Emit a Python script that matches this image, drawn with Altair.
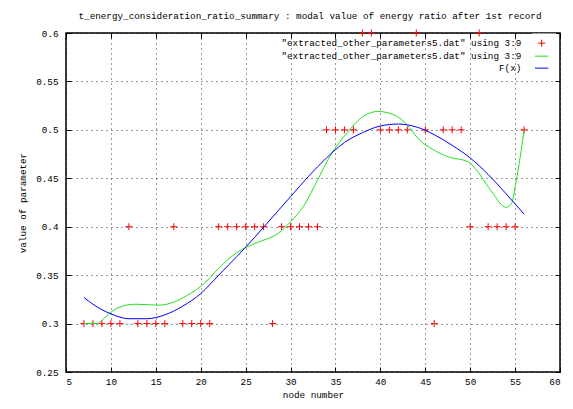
import altair as alt
import pandas as pd

# ---- data ----
node = list(range(7, 57))
modal = [0.3, 0.3, 0.3, 0.3, 0.3, 0.4, 0.3, 0.3, 0.3, 0.3,
         0.4, 0.3, 0.3, 0.3, 0.3, 0.4, 0.4, 0.4, 0.4, 0.4,
         0.4, 0.3, 0.4, 0.4, 0.4, 0.4, 0.4, 0.5, 0.5, 0.5,
         0.5, 0.6, 0.6, 0.5, 0.5, 0.5, 0.5, 0.6, 0.5, 0.3,
         0.5, 0.5, 0.5, 0.4, 0.6, 0.4, 0.4, 0.4, 0.4, 0.5]

smooth_x = [7, 8.4, 9.2, 9.9, 11.7, 12.8, 15.4, 17.2, 19.0, 20.1, 22.0, 23.4, 25.1,
            26.4, 28.6, 30.0, 31.5, 33.0, 34.4, 36.3, 38.1, 39.7, 41.4, 42.9,
            44.3, 45.8, 47.6, 49.8, 50.9, 52.4, 54.0, 54.6, 55.1, 56.0]
smooth_y = [0.300, 0.300, 0.305, 0.311, 0.319, 0.320, 0.319, 0.323, 0.332, 0.339,
            0.357, 0.369, 0.379, 0.384, 0.393, 0.405, 0.422, 0.448, 0.473, 0.497,
            0.514, 0.519, 0.516, 0.506, 0.490, 0.480, 0.472, 0.467, 0.456, 0.436,
            0.420, 0.424, 0.446, 0.499]

fit_x = [7, 8, 10, 12, 14, 16, 18, 20, 22, 24, 26, 28, 30, 32, 34, 36, 38, 40,
         42, 44, 46, 48, 50, 52, 54, 56]
fit_y = [0.327, 0.320, 0.310, 0.305, 0.305, 0.309, 0.318, 0.331, 0.350, 0.369,
         0.389, 0.410, 0.431, 0.452, 0.471, 0.487, 0.497, 0.504, 0.506, 0.503,
         0.495, 0.484, 0.471, 0.454, 0.434, 0.413]

series_keys = ["pts", "smooth", "fit"]
series_labels = ['"extracted_other_parameters5.dat" using 3:9',
                 '"extracted_other_parameters5.dat" using 3:9',
                 "F(x)"]
series_colors = ["#ff0000", "#22e022", "#0000ff"]

x_ticks = list(range(5, 61, 5))
y_ticks = [0.25, 0.3, 0.35, 0.4, 0.45, 0.5, 0.55, 0.6]

title_text = "t_energy_consideration_ratio_summary : modal value of energy ratio after 1st record"

FONT = "Liberation Mono"
FS = 9.3

df_pts = pd.DataFrame({"x": node, "y": modal, "series": "pts"})
df_smooth = pd.DataFrame({"x": smooth_x, "y": smooth_y, "series": "smooth"})
df_fit = pd.DataFrame({"x": fit_x, "y": fit_y, "series": "fit"})

xscale = alt.Scale(domain=[5, 60], nice=False, zero=False)
yscale = alt.Scale(domain=[0.25, 0.6], nice=False, zero=False)

cross = "M-1,0H1M0,-1V1"
linepath = "M-1.9,0H1.9"

label_expr = ("datum.label == 'fit' ? 'F(x)' : "
              "'\"extracted_other_parameters5.dat\" using 3:9'")

legend = alt.Legend(title=None, orient="none", legendX=466, legendY=0.5,
                    labelExpr=label_expr, labelAlign="right",
                    labelOffset=alt.ExprRef(expr="-25"), labelLimit=400,
                    labelFont=FONT, labelFontSize=FS, labelColor="#000",
                    symbolSize=49, symbolStrokeWidth=1, padding=5,
                    rowPadding=2, fillColor="white")

color = alt.Color("series:N", scale=alt.Scale(domain=series_keys, range=series_colors),
                  legend=legend)
shape = alt.Shape("series:N", scale=alt.Scale(domain=series_keys,
                                              range=[cross, linepath, linepath]),
                  legend=legend)

main_x = alt.Axis(values=x_ticks, orient="bottom", offset=-5, tickSize=5, domain=False,
                  grid=True, gridDash=[1, 4], gridColor="#000", gridOpacity=0.8,
                  labelPadding=5, title="node number", titlePadding=4,
                  labelFont=FONT, labelFontSize=FS, titleFont=FONT, titleFontSize=FS,
                  titleFontWeight="normal", tickColor="#000", labelColor="#000",
                  titleColor="#000")
main_y = alt.Axis(values=y_ticks, orient="left", offset=-5, tickSize=5, domain=False,
                  grid=True, gridDash=[1, 4], gridColor="#000", gridOpacity=0.8,
                  labelPadding=8, title="value of parameter", titlePadding=8,
                  format=".2~f", labelFont=FONT, labelFontSize=FS, titleFont=FONT,
                  titleFontSize=FS, titleFontWeight="normal", tickColor="#000",
                  labelColor="#000", titleColor="#000")
mirror_x = alt.Axis(values=x_ticks, orient="top", offset=-5, tickSize=5, domain=False,
                    grid=False, labels=False, title=None, tickColor="#000")
mirror_y = alt.Axis(values=y_ticks, orient="right", offset=-5, tickSize=5, domain=False,
                    grid=False, labels=False, title=None, tickColor="#000")

points = alt.Chart(df_pts).mark_point(filled=False, strokeWidth=1, size=49, opacity=1).encode(
    x=alt.X("x:Q", scale=xscale, axis=main_x),
    y=alt.Y("y:Q", scale=yscale, axis=main_y),
    color=color,
    shape=shape,
)

green = alt.Chart(df_smooth).mark_line(strokeWidth=1, interpolate="monotone").encode(
    x=alt.X("x:Q", scale=xscale, axis=mirror_x),
    y=alt.Y("y:Q", scale=yscale, axis=mirror_y),
    color=color,
)

blue = alt.Chart(df_fit).mark_line(strokeWidth=1, interpolate="monotone").encode(
    x=alt.X("x:Q", scale=xscale, axis=None),
    y=alt.Y("y:Q", scale=yscale, axis=None),
    color=color,
)

chart = alt.layer(points, green, blue).resolve_axis(
    x="independent", y="independent"
).properties(
    width=494, height=339,
    autosize=alt.AutoSizeParams(type="none"),
    padding={"left": 58, "top": 25, "right": 5, "bottom": 29},
    title=alt.Title(title_text, font=FONT, fontSize=FS, fontWeight="normal",
                    color="#000", anchor="middle", offset=6, dx=-3),
).configure_view(stroke="#000", strokeWidth=1.5)

chart.save("out.html", embed_options={"renderer": "svg", "actions": False})
